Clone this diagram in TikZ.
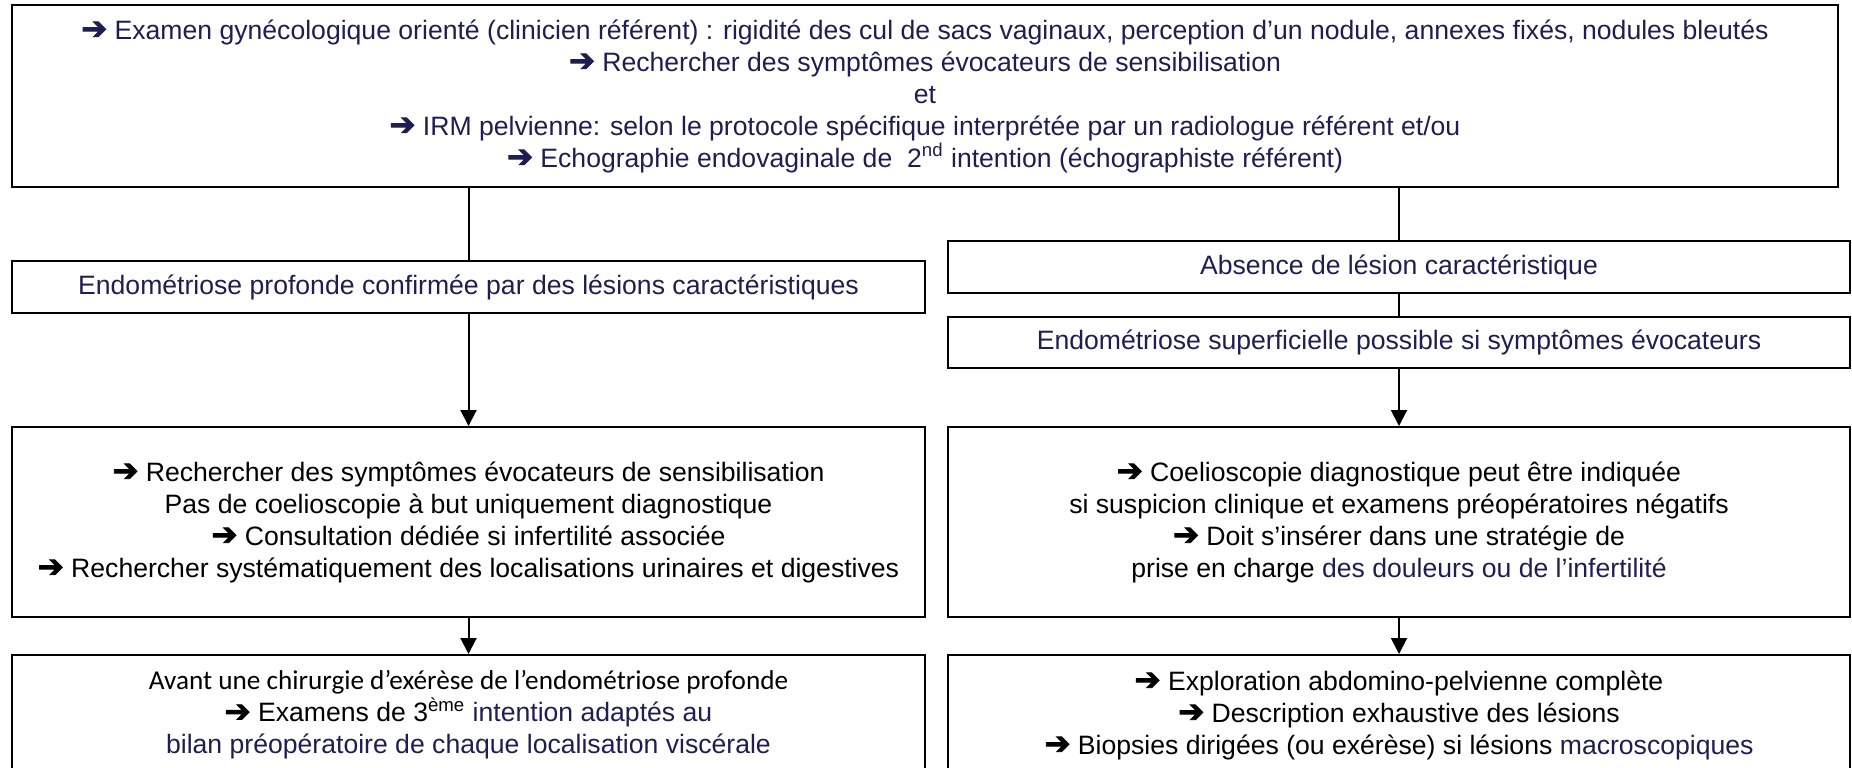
\documentclass[tikz,border=0pt]{standalone}
\usepackage{fontspec}
\setmainfont{Liberation Sans}
\newfontfamily\calibfont{Carlito}
\newfontfamily\symbfont[FakeBold=3]{DejaVu Sans}
\usetikzlibrary{arrows.meta}
\definecolor{txtblue}{RGB}{30,30,80}
\newcommand{\fleche}{{\symbfont\fontsize{15.5}{16}\selectfont ➔}}
\tikzstyle{box} = [draw=black, line width=1pt, rectangle, align=center, inner sep=0pt, font={\fontsize{13.3}{16}\selectfont}]
\tikzstyle{wide} = [box, minimum width=913pt, minimum height=91pt, text=txtblue]
\tikzstyle{left} = [box, minimum width=456.5pt]
\tikzstyle{right} = [box, minimum width=451pt]
\tikzstyle{link} = [line width=1pt]
\tikzstyle{flow} = [link, -{Triangle[width=8pt,length=8pt]}]

\begin{document}
\begin{tikzpicture}[x=0.5pt,y=-0.5pt]
  \useasboundingbox (0,0) rectangle (1852,767);
  \clip (0,0) rectangle (1852,767);
  \node[wide](0) at (925,96){\fleche\ Examen gynécologique orienté (clinicien référent) : rigidité des cul de sacs vaginaux, perception d’un nodule, annexes fixés, nodules bleutés\\
    \fleche\ Rechercher des symptômes évocateurs de sensibilisation\\
    et\\
    \fleche\ IRM pelvienne: selon le protocole spécifique interprétée par un radiologue référent et/ou\\
    \fleche\ Echographie endovaginale de\ \ 2\textsuperscript{nd} intention (échographiste référent)};
  \node[left,minimum height=26pt,text=txtblue](1) at (468.5,287){Endométriose profonde confirmée par des lésions caractéristiques};
  \node[right,minimum height=26pt,text=txtblue](2) at (1399,267){Absence de lésion caractéristique};
  \node[right,minimum height=25.5pt,text=txtblue](3) at (1399,342.5){Endométriose superficielle possible si symptômes évocateurs};
  \node[left,minimum height=95pt](4) at (468.5,522){\fleche\ Rechercher des symptômes évocateurs de sensibilisation\\
    Pas de coelioscopie à but uniquement diagnostique\\
    \fleche\ Consultation dédiée si infertilité associée\\
    \fleche\ Rechercher systématiquement des localisations urinaires et digestives};
  \node[right,minimum height=95pt](5) at (1399,522){\fleche\ Coelioscopie diagnostique peut être indiquée\\
    si suspicion clinique et examens préopératoires négatifs\\
    \fleche\ Doit s’insérer dans une stratégie de\\
    prise en charge {\color{txtblue}des douleurs ou de l’infertilité}};
  \node[left,minimum height=60pt](6) at (468.5,715){{\calibfont\fontsize{13.6}{16}\selectfont Avant une chirurgie d’exérèse de l’endométriose profonde}\\
    \fleche\ Examens de 3\textsuperscript{ème} {\color{txtblue}intention adaptés au}\\
    {\color{txtblue}bilan préopératoire de chaque localisation viscérale}};
  \node[right,minimum height=60pt](7) at (1399,715){\fleche\ Exploration abdomino-pelvienne complète\\
    \fleche\ Description exhaustive des lésions\\
    \fleche\ Biopsies dirigées (ou exérèse) si lésions {\color{txtblue}macroscopiques}};
  \draw[link](1.north |- 0.south)--(1.north);
  \draw[link](2.north |- 0.south)--(2.north);
  \draw[link](2)--(3);
  \draw[flow](1)--(4);
  \draw[flow](3)--(5);
  \draw[flow](4)--(6);
  \draw[flow](5)--(7);
\end{tikzpicture}
\end{document}
